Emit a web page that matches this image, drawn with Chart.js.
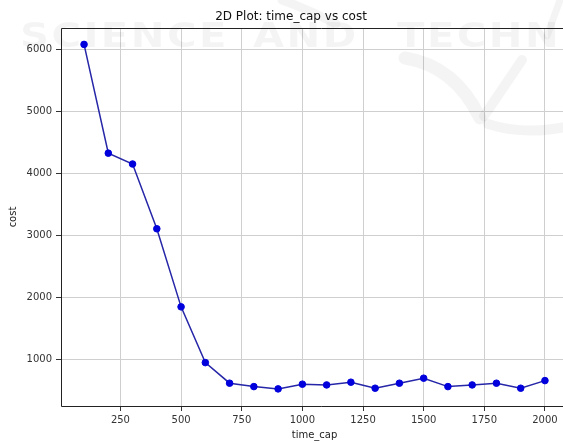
<!DOCTYPE html>
<html>

<head>
    <title>2D Plot: time_cap vs cost</title>
    <script src="https://cdn.jsdelivr.net/npm/chart.js"></script>
    <style>
        html, body { margin: 0; padding: 0; background: #fff; overflow: hidden; }
        #wrap { width: 563px; height: 443px; overflow: hidden; }
        #wrap div { width: 582px; height: 443px; }
    </style>
</head>

<body>
    <div id="wrap"><div><canvas id="costChart" width="582" height="443"></canvas></div></div>
    <script>
        // values
        var timeCap = [100, 200, 300, 400, 500, 600, 700, 800, 900, 1000,
                       1100, 1200, 1300, 1400, 1500, 1600, 1700, 1800, 1900, 2000];
        var cost = [6080, 4325, 4150, 3105, 1845, 945, 613, 558, 521, 597,
                    585, 629, 532, 613, 694, 558, 585, 613, 532, 655];
        var xTicks = [250, 500, 750, 1000, 1250, 1500, 1750, 2000];
        var yTicks = [1000, 2000, 3000, 4000, 5000, 6000];

        var tickFont = { family: 'DejaVu Sans', size: 10 };

        // faint publisher watermark behind the plot, plus frame and title
        var decor = {
            id: 'decor',
            beforeDatasetsDraw: function (chart) {
                var ctx = chart.ctx;
                ctx.save();
                ctx.fillStyle = 'rgba(0,0,0,0.045)';
                ctx.font = 'bold 33px "DejaVu Sans"';
                ctx.letterSpacing = '2px';
                ctx.save();
                ctx.scale(1.22, 1);
                ctx.fillText('SCIENCE', 20 / 1.22, 47);
                ctx.fillText('AND', 253 / 1.22, 47);
                ctx.fillText('TECHNOLOGY', 397 / 1.22, 47);
                ctx.restore();
                ctx.strokeStyle = 'rgba(0,0,0,0.045)';
                ctx.lineCap = 'round';
                ctx.lineWidth = 9;
                ctx.beginPath();
                ctx.moveTo(282, 0);
                ctx.quadraticCurveTo(310, 10, 336, 24);
                ctx.stroke();
                ctx.lineWidth = 13;
                ctx.beginPath();
                ctx.moveTo(405, 58);
                ctx.quadraticCurveTo(455, 66, 480, 118);
                ctx.stroke();
                ctx.lineWidth = 10;
                ctx.beginPath();
                ctx.moveTo(484, 116);
                ctx.lineTo(522, 60);
                ctx.stroke();
                ctx.beginPath();
                ctx.moveTo(488, 124);
                ctx.quadraticCurveTo(525, 136, 570, 126);
                ctx.stroke();
                ctx.lineWidth = 7;
                ctx.beginPath();
                ctx.moveTo(560, 0);
                ctx.lineTo(547, 36);
                ctx.stroke();
                ctx.restore();
            },
            afterDraw: function (chart) {
                var a = chart.chartArea, ctx = chart.ctx;
                var l = Math.round(a.left) + 0.5, t = Math.round(a.top) + 0.5, b = Math.round(a.bottom) + 0.5;
                ctx.save();
                ctx.strokeStyle = '#222';
                ctx.lineWidth = 1;
                ctx.beginPath();
                ctx.moveTo(chart.width, t);
                ctx.lineTo(l, t);
                ctx.lineTo(l, b);
                ctx.lineTo(chart.width, b);
                ctx.stroke();
                ctx.fillStyle = '#111';
                ctx.font = '12px "DejaVu Sans"';
                ctx.textAlign = 'center';
                ctx.textBaseline = 'middle';
                ctx.fillText('2D Plot: time_cap vs cost', 291, 17);
                ctx.restore();
            }
        };

        var ctx = document.getElementById('costChart').getContext('2d');
        var chart = new Chart(ctx, {
            type: 'line',
            data: {
                datasets: [{
                    label: 'cost',
                    data: timeCap.map(function (t, i) { return { x: t, y: cost[i] }; }),
                    borderColor: '#2626a8',
                    borderWidth: 1.5,
                    pointBackgroundColor: '#0000dc',
                    pointBorderColor: '#0000dc',
                    pointBorderWidth: 1,
                    pointRadius: 3.3,
                    fill: false,
                    tension: 0
                }]
            },
            options: {
                responsive: false,
                animation: false,
                layout: { padding: { left: 0, right: 14, top: 28, bottom: 0 } },
                plugins: {
                    legend: { display: false },
                    tooltip: { enabled: false }
                },
                scales: {
                    x: {
                        type: 'linear',
                        min: 5,
                        max: 2095,
                        afterFit: function (s) { s.height = 37; },
                        afterBuildTicks: function (s) {
                            s.ticks = xTicks.map(function (v) { return { value: v }; });
                        },
                        ticks: { font: tickFont, color: '#333', padding: 3, maxRotation: 0,
                                 callback: function (v) { return String(v); } },
                        grid: { color: '#cfcfcf', tickColor: '#333', tickLength: 5 },
                        border: { display: false },
                        title: { display: true, text: 'time_cap', font: tickFont, color: '#222',
                                 padding: { top: 0, bottom: 2 } }
                    },
                    y: {
                        min: 245,
                        max: 6345,
                        afterFit: function (s) { s.width = 61; },
                        afterBuildTicks: function (s) {
                            s.ticks = yTicks.map(function (v) { return { value: v }; });
                        },
                        ticks: { font: tickFont, color: '#333', padding: 4,
                                 callback: function (v) { return String(v); } },
                        grid: { color: '#cfcfcf', tickColor: '#333', tickLength: 5 },
                        border: { display: false },
                        title: { display: true, text: 'cost', font: tickFont, color: '#222',
                                 padding: { top: 7, bottom: 0 } }
                    }
                }
            },
            plugins: [decor]
        });
    </script>
</body>

</html>
